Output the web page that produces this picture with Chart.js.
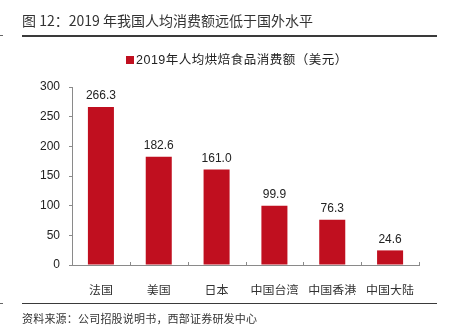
<!DOCTYPE html>
<html lang="zh">
<head>
    <meta charset="UTF-8">
    <title>人均烘焙食品消费额</title>
    <script src="https://cdn.jsdelivr.net/npm/chart.js"></script>
    <style>
        body {
            margin: 0;
            width: 454px;
            height: 334px;
            position: relative;
            overflow: hidden;
            background: #fff;
            font-family: "Noto Sans CJK SC", sans-serif;
            color: #333;
        }
        #chartBox {
            position: absolute;
            left: 0;
            top: 0;
            width: 454px;
            height: 334px;
        }
        .title {
            position: absolute;
            left: 22px;
            top: 10px;
            font-size: 14px;
            line-height: 20px;
            color: #333;
            white-space: nowrap;
        }
        .rule {
            position: absolute;
            left: 22px;
            width: 415px;
            background: #3a3a3a;
        }
        .stub {
            position: absolute;
            left: 0;
            width: 3px;
            height: 1px;
            background: #666;
        }
        .legend {
            position: absolute;
            left: 126px;
            top: 51px;
            font-size: 12.5px;
            line-height: 18px;
            letter-spacing: 0.5px;
            color: #222;
            white-space: nowrap;
            font-family: "Liberation Sans", "Noto Sans CJK SC", sans-serif;
        }
        .legend .box {
            display: inline-block;
            width: 8px;
            height: 8px;
            background: #c00f1f;
            margin-right: 2px;
            vertical-align: 0px;
        }
        .source {
            position: absolute;
            left: 22px;
            top: 310px;
            font-size: 11px;
            line-height: 16px;
            letter-spacing: 0.2px;
            color: #333;
            white-space: nowrap;
        }
    </style>
</head>
<body>
    <div id="chartBox"><canvas id="bakeryChart" width="454" height="334"></canvas></div>
    <div class="title">图 12：2019 年我国人均消费额远低于国外水平</div>
    <div class="rule" style="top:35px;height:1.5px;"></div>
    <div class="stub" style="top:35px;"></div>
    <div class="legend"><span class="box"></span>2019年人均烘焙食品消费额（美元）</div>
    <div class="rule" style="top:303px;height:1px;"></div>
    <div class="stub" style="top:303px;"></div>
    <div class="source">资料来源：公司招股说明书，西部证券研发中心</div>

    <script>
        const categories = ['法国', '美国', '日本', '中国台湾', '中国香港', '中国大陆'];
        const spending = [266.3, 182.6, 161.0, 99.9, 76.3, 24.6];
        const yTicks = [0, 50, 100, 150, 200, 250, 300];

        const barColor = '#c00f1f';
        const axisColor = '#8a8a8a';

        // value labels above each bar
        const valueLabels = {
            id: 'valueLabels',
            afterDatasetsDraw(chart) {
                const ctx = chart.ctx;
                const meta = chart.getDatasetMeta(0);
                ctx.save();
                ctx.font = '12px "Liberation Sans", Arial, sans-serif';
                ctx.fillStyle = '#222';
                ctx.textAlign = 'center';
                ctx.textBaseline = 'bottom';
                meta.data.forEach((bar, i) => {
                    ctx.fillText(spending[i].toFixed(1), bar.x, bar.y - 5);
                });
                ctx.restore();
            }
        };

        // short inward tick marks between categories on the x axis
        const innerTicks = {
            id: 'innerTicks',
            afterDraw(chart) {
                const ctx = chart.ctx;
                const x = chart.scales.x;
                const bottom = chart.chartArea.bottom;
                const step = x.width / categories.length;
                ctx.save();
                ctx.strokeStyle = axisColor;
                ctx.lineWidth = 1;
                ctx.beginPath();
                for (let i = 1; i <= categories.length; i++) {
                    const px = Math.round(x.getPixelForValue(i - 1) + step / 2) + 0.5;
                    ctx.moveTo(px, bottom);
                    ctx.lineTo(px, bottom - 3);
                }
                ctx.stroke();
                ctx.restore();
            }
        };

        const config = {
            type: 'bar',
            data: {
                labels: categories,
                datasets: [{
                    label: '2019年人均烘焙食品消费额（美元）',
                    data: spending,
                    backgroundColor: barColor,
                    categoryPercentage: 1,
                    barPercentage: 0.45
                }]
            },
            options: {
                responsive: false,
                animation: false,
                devicePixelRatio: 1,
                layout: {
                    padding: { left: 20, right: 35, top: 87, bottom: 39 }
                },
                plugins: {
                    legend: { display: false },
                    tooltip: { enabled: false }
                },
                scales: {
                    x: {
                        grid: { display: false },
                        border: { display: true, color: axisColor, width: 1 },
                        ticks: {
                            color: '#333',
                            padding: 10,
                            font: { size: 12, family: '"Noto Sans CJK SC", sans-serif' }
                        },
                        afterFit(scale) { scale.height = 30; }
                    },
                    y: {
                        min: 0,
                        max: 300,
                        afterBuildTicks(scale) {
                            scale.ticks = yTicks.map(v => ({ value: v }));
                        },
                        grid: {
                            drawOnChartArea: false,
                            drawTicks: true,
                            tickLength: 3,
                            color: axisColor
                        },
                        border: { display: true, color: axisColor, width: 1 },
                        ticks: {
                            color: '#222',
                            padding: 9,
                            font: { size: 12, family: '"Liberation Sans", Arial, sans-serif' }
                        },
                        afterFit(scale) { scale.width = 52; }
                    }
                }
            },
            plugins: [valueLabels, innerTicks]
        };

        new Chart(document.getElementById('bakeryChart').getContext('2d'), config);
    </script>
</body>
</html>
